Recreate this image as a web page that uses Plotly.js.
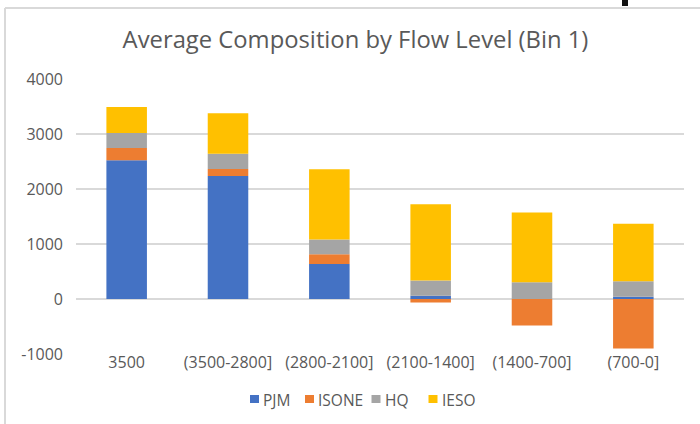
<!DOCTYPE html>
<html>
<head>
<meta charset="utf-8">
<script src="https://cdn.plot.ly/plotly-3.0.1.min.js"></script>
<style>
  html, body { margin: 0; padding: 0; background: #ffffff; }
  #chart { width: 700px; height: 424px; }
</style>
</head>
<body>
<div id="chart"></div>
<script>
// Flow-level bins and the average contribution of each area
const categories = ['3500', '(3500-2800]', '(2800-2100]', '(2100-1400]', '(1400-700]', '(700-0]'];
const pjm   = [2525, 2235, 638, 60, 0, 40];
const isone = [220, 127, 176, -65, -480, -900];
const hq    = [273, 279, 268, 275, 304, 282];
const ieso  = [474, 736, 1275, 1390, 1270, 1044];

const seriesNames  = ['PJM', 'ISONE', 'HQ', 'IESO'];
const seriesValues = [pjm, isone, hq, ieso];
const seriesColors = ['#4472C4', '#ED7D31', '#A5A5A5', '#FFC000'];

const yTicks = [-1000, 0, 1000, 2000, 3000, 4000];

const FONT = 'Open Sans, Noto Sans, sans-serif';
const GREY_TEXT = '#595959';
const GRID = '#d9d9d9';

const traces = seriesNames.map((name, i) => ({
  type: 'bar',
  name: name,
  x: categories,
  y: seriesValues[i],
  marker: { color: seriesColors[i], line: { width: 0 } },
  hoverinfo: 'x+y+name'
}));

// plot area edges in pixels, used to place the frame and key in paper units
const W = 700, H = 424;
const M = { l: 76, r: 16, t: 79, b: 70 };
const pw = W - M.l - M.r, ph = H - M.t - M.b;
const px = v => (v - M.l) / pw;
const py = v => (H - M.b - v) / ph;

// compact key row under the axis: swatch left edges and label starts (px)
const keySwatchLeft = [250, 305, 371.5, 428.5];
const keyLabelLeft  = [261.5, 317, 384, 441];
const keyRowY = 399;
const keySwatch = 9;

const keyShapes = seriesNames.map((name, i) => ({
  type: 'rect', xref: 'paper', yref: 'paper',
  x0: px(keySwatchLeft[i]), x1: px(keySwatchLeft[i] + keySwatch),
  y0: py(keyRowY + 4), y1: py(keyRowY - 4),
  fillcolor: seriesColors[i], line: { width: 0 }
}));

const keyLabels = seriesNames.map((name, i) => ({
  text: name,
  xref: 'paper', yref: 'paper',
  x: px(keyLabelLeft[i] - 1), xanchor: 'left',
  y: py(keyRowY + 1), yanchor: 'middle',
  showarrow: false,
  font: { family: FONT, size: 15.5, color: GREY_TEXT }
}));

const layout = {
  width: W,
  height: H,
  margin: M,
  paper_bgcolor: '#ffffff',
  plot_bgcolor: '#ffffff',
  barmode: 'relative',
  bargap: 0.6,
  showlegend: false,
  font: { family: FONT, color: GREY_TEXT, size: 16 },
  title: {
    text: 'Average Composition by Flow Level (Bin 1)',
    font: { family: FONT, size: 23.8, color: GREY_TEXT },
    x: 355.5 / W,
    xanchor: 'center',
    xref: 'container',
    y: 1 - 40 / H,
    yref: 'container',
    yanchor: 'middle'
  },
  xaxis: {
    type: 'category',
    showgrid: false,
    zeroline: false,
    showline: false,
    ticks: '',
    ticklabelstandoff: -3,
    tickfont: { family: FONT, size: 16, color: GREY_TEXT },
    fixedrange: true
  },
  yaxis: {
    range: [-1000, 4000],
    tickvals: yTicks,
    ticktext: yTicks.map(String),
    showgrid: true,
    gridcolor: GRID,
    gridwidth: 1.3,
    zeroline: true,
    zerolinecolor: GRID,
    zerolinewidth: 1.3,
    showline: false,
    ticks: '',
    ticklabelstandoff: 12,
    tickfont: { family: FONT, size: 16, color: GREY_TEXT },
    fixedrange: true
  },
  annotations: keyLabels,
  shapes: [
    // chart frame (top and left edges)
    { type: 'line', xref: 'paper', yref: 'paper', x0: px(5), x1: px(705), y0: py(8), y1: py(8),
      line: { color: GRID, width: 2 } },
    { type: 'line', xref: 'paper', yref: 'paper', x0: px(5), x1: px(5), y0: py(8), y1: py(430),
      line: { color: GRID, width: 2 } },
    // small dark stroke at the top edge
    { type: 'rect', xref: 'paper', yref: 'paper', x0: px(622), x1: px(628), y0: py(0), y1: py(6),
      fillcolor: '#111111', line: { width: 0 } }
  ].concat(keyShapes)
};

Plotly.newPlot('chart', traces, layout, { displayModeBar: false, staticPlot: true });
</script>
</body>
</html>
